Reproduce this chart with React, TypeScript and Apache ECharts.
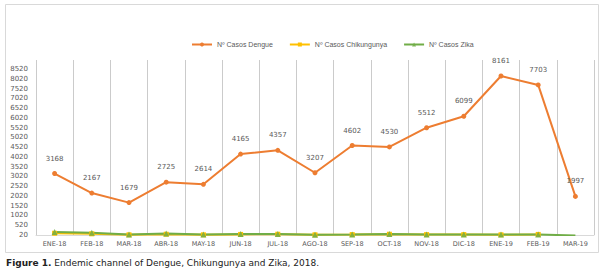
import React, { useEffect, useRef } from "react";
import * as echarts from "echarts";

const categories = ["ENE-18", "FEB-18", "MAR-18", "ABR-18", "MAY-18", "JUN-18", "JUL-18", "AGO-18", "SEP-18", "OCT-18", "NOV-18", "DIC-18", "ENE-19", "FEB-19", "MAR-19"];
const dengue = [3168, 2167, 1679, 2725, 2614, 4165, 4357, 3207, 4602, 4530, 5512, 6099, 8161, 7703, 1997];
const chikungunya = [110, 80, 30, 60, 30, 50, 60, 30, 40, 60, 40, 40, 30, 50, null];
const zika = [170, 130, 40, 100, 40, 70, 70, 30, 40, 70, 50, 40, 40, 40, 0];

const seriesNames = ["Nº Casos Dengue", "Nº Casos Chikungunya", "Nº Casos Zika"];
const caption = "Endemic channel of Dengue, Chikungunya and Zika, 2018.";

export default function App() {
  const ref = useRef<HTMLDivElement>(null);
  useEffect(() => {
    if (!ref.current) return;
    const chart = echarts.init(ref.current, null, { renderer: "svg" });
    const font = "DejaVu Sans";
    const lfont = "Liberation Sans";
    const gridColor = "#d9d9d9";
    const vColor = "#cbcbcb";
    chart.setOption({
      animation: false,
      textStyle: { fontFamily: font },
      grid: { left: 36, right: 8, top: 60, bottom: 38, containLabel: false },
      legend: {
        top: 36,
        left: 186,
        itemWidth: 20,
        itemHeight: 5,
        itemGap: 16,
        textStyle: { fontSize: 7, color: "#595959", fontFamily: lfont },
        data: seriesNames,
      },
      xAxis: {
        type: "category",
        data: categories,
        boundaryGap: true,
        axisLine: { show: true, lineStyle: { color: gridColor, width: 1 } },
        axisTick: { show: false },
        splitLine: { show: true, interval: 0, lineStyle: { color: vColor, width: 1 } },
        axisLabel: { fontSize: 6.5, color: "#595959", margin: 5, interval: 0, fontFamily: font },
      },
      yAxis: {
        type: "value",
        min: 20,
        max: 8980,
        interval: 500,
        axisLine: { show: false },
        axisTick: { show: false },
        splitLine: { show: false },
        axisLabel: {
          fontSize: 7,
          color: "#595959",
          margin: 8,
          showMaxLabel: false,
          fontFamily: font,
          formatter: (v: number) => String(v),
        },
      },
      series: [
        {
          name: seriesNames[0],
          type: "line",
          data: dengue,
          symbol: "circle",
          symbolSize: 5,
          lineStyle: { color: "#ED7D31", width: 2 },
          itemStyle: { color: "#ED7D31" },
          label: { show: true, position: "top", distance: 9, fontSize: 7, color: "#595959", fontFamily: font },
          z: 3,
        },
        {
          name: seriesNames[1],
          type: "line",
          data: chikungunya,
          symbol: "rect",
          symbolSize: 5,
          lineStyle: { color: "#FFC000", width: 2 },
          itemStyle: { color: "#FFC000" },
          z: 2,
        },
        {
          name: seriesNames[2],
          type: "line",
          data: zika.map((v, i) => (i === zika.length - 1 ? { value: v, symbol: "none" } : v)),
          symbol: "triangle",
          symbolSize: 6,
          lineStyle: { color: "#70AD47", width: 2 },
          itemStyle: { color: "#70AD47", opacity: 0.85 },
          z: 2,
        },
      ],
      graphic: [
        {
          type: "rect",
          shape: { x: 5.5, y: 4.5, width: 593, height: 248 },
          style: { fill: "none", stroke: gridColor, lineWidth: 1 },
          silent: true,
        },
        {
          type: "text",
          x: 6,
          y: 263,
          style: {
            text: "{b|Figure 1.} " + caption,
            rich: { b: { fontWeight: "bold", fontSize: 9, fontFamily: font, fill: "#222" } },
            fontSize: 9,
            fontFamily: font,
            fill: "#222",
            verticalAlign: "middle",
          },
        },
      ],
    });
    return () => chart.dispose();
  }, []);
  return (
    <div style={{ position: "absolute", left: 0, top: 0, width: 602, height: 273, background: "#fff" }}>
      <div ref={ref} style={{ width: 602, height: 273 }} />
    </div>
  );
}
